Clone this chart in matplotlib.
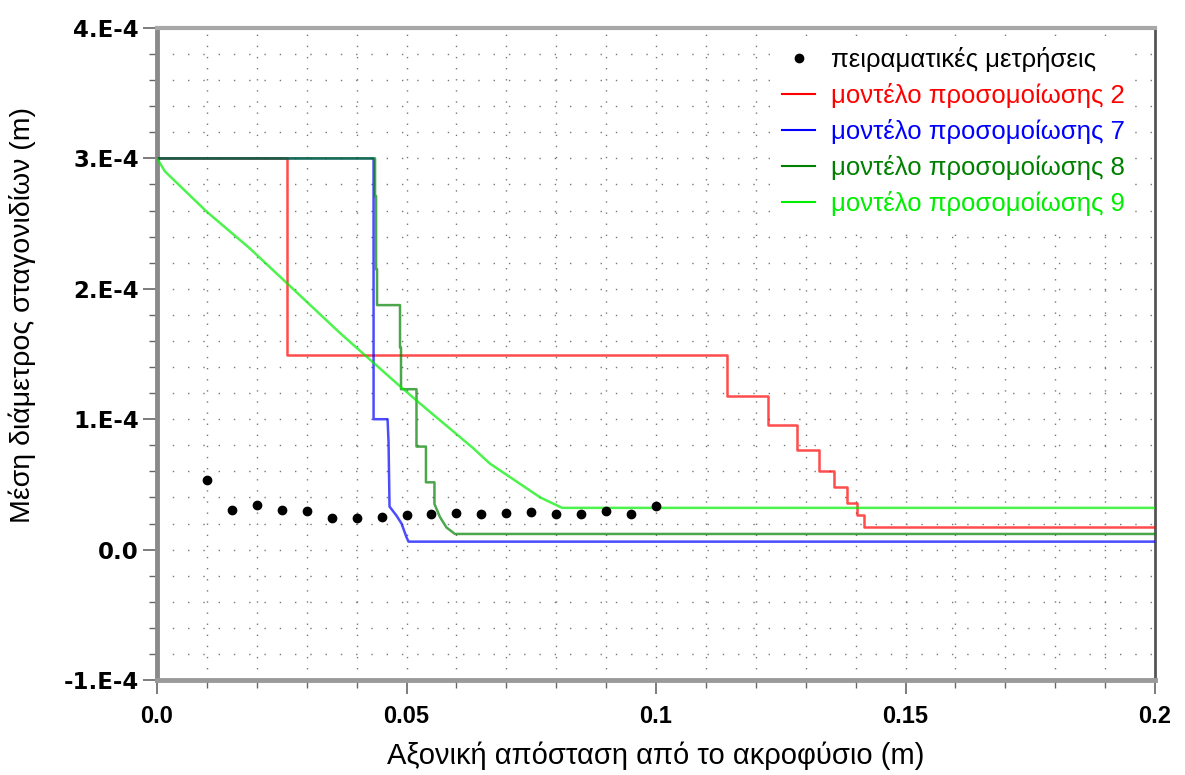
import matplotlib
matplotlib.use("Agg")
import matplotlib.pyplot as plt
from matplotlib.lines import Line2D
from matplotlib.ticker import MultipleLocator, FixedLocator
import numpy as np

# Experimental measurements: axial distance (m) and mean droplet diameter (1e-4 m)
exp_x = [0.010, 0.015, 0.020, 0.025, 0.030, 0.035, 0.040, 0.045, 0.050, 0.055,
         0.060, 0.065, 0.070, 0.075, 0.080, 0.085, 0.090, 0.095, 0.100]
exp_y = [0.536, 0.304, 0.342, 0.304, 0.294, 0.240, 0.245, 0.253, 0.266, 0.270,
         0.278, 0.270, 0.283, 0.285, 0.273, 0.273, 0.294, 0.273, 0.337]

# Simulation model 2 (step profile: break positions and levels, 1e-4 m)
m2_x = [0.0, 0.026, 0.1142, 0.1225, 0.1282, 0.1327, 0.1357, 0.1383, 0.1402, 0.1417, 0.2]
m2_y = [3.0, 1.49, 1.178, 0.952, 0.764, 0.600, 0.478, 0.360, 0.266, 0.171, 0.171]

# Simulation model 7
m7_x = [0.0, 0.0434, 0.0434, 0.0462, 0.0464, 0.0466, 0.0480, 0.0490, 0.0500, 0.0504, 0.2]
m7_y = [3.0, 3.0, 1.0, 1.0, 0.83, 0.33, 0.26, 0.20, 0.095, 0.061, 0.061]

# Simulation model 8
m8_x = [0.0, 0.0437, 0.0437, 0.0439, 0.0439, 0.0441, 0.0441, 0.0487, 0.0487, 0.0489,
        0.0489, 0.0520, 0.0520, 0.0539, 0.0539, 0.0556, 0.0556, 0.0567, 0.0580, 0.0597, 0.2]
m8_y = [3.0, 3.0, 2.71, 2.71, 2.15, 2.15, 1.875, 1.875, 1.55, 1.55,
        1.23, 1.23, 0.79, 0.79, 0.516, 0.516, 0.35, 0.25, 0.17, 0.12, 0.12]

# Simulation model 9
m9_x = [0.0, 0.0016, 0.010, 0.0186, 0.0367, 0.0473, 0.0521, 0.0633, 0.0667, 0.0768, 0.0812, 0.2]
m9_y = [3.0, 2.90, 2.59, 2.31, 1.66, 1.30, 1.14, 0.78, 0.66, 0.40, 0.32, 0.32]

labels = ["πειραματικές μετρήσεις",
          "μοντέλο προσομοίωσης 2",
          "μοντέλο προσομοίωσης 7",
          "μοντέλο προσομοίωσης 8",
          "μοντέλο προσομοίωσης 9"]
colors = ["#000000", "#ff0000", "#0000ff", "#008000", "#00ee00"]

x_ticks = [0.0, 0.05, 0.1, 0.15, 0.2]
x_ticklabels = ["0.0", "0.05", "0.1", "0.15", "0.2"]
y_ticks = [-1e-4, 0.0, 1e-4, 2e-4, 3e-4, 4e-4]
y_ticklabels = ["-1.E-4", "0.0", "1.E-4", "2.E-4", "3.E-4", "4.E-4"]

SCALE = 1e-4
SANS = ["Liberation Sans", "DejaVu Sans"]

fig = plt.figure(figsize=(11.85, 7.75), dpi=100)
ax = fig.add_axes([157 / 1185, 1 - 680 / 775, 998 / 1185, 652 / 775])

LW = 1.8
ax.plot(np.array(m2_x), np.array(m2_y) * SCALE, color=colors[1], lw=LW,
        drawstyle="steps-post", alpha=0.7, zorder=3)
ax.plot(np.array(m7_x), np.array(m7_y) * SCALE, color=colors[2], lw=LW, alpha=0.7, zorder=3)
ax.plot(np.array(m8_x), np.array(m8_y) * SCALE, color=colors[3], lw=LW, alpha=0.7, zorder=3)
ax.plot(np.array(m9_x), np.array(m9_y) * SCALE, color=colors[4], lw=LW, alpha=0.7, zorder=3)
ax.plot(exp_x, np.array(exp_y) * SCALE, linestyle="none", marker="o",
        markersize=6, color="black", zorder=4)

ax.set_xlim(0, 0.2)
ax.set_ylim(-1e-4, 4e-4)

ax.xaxis.set_major_locator(FixedLocator(x_ticks))
ax.xaxis.set_minor_locator(MultipleLocator(0.01))
ax.yaxis.set_major_locator(FixedLocator(y_ticks))
ax.yaxis.set_minor_locator(MultipleLocator(2e-5))
ax.set_xticklabels(x_ticklabels, fontdict={"family": SANS, "weight": "bold", "size": 17})
ax.set_yticklabels(y_ticklabels, fontdict={"family": ["DejaVu Sans"], "weight": "bold", "size": 16.5})

ax.tick_params(which="major", direction="out", length=10, width=1.2, color="#666666")
ax.tick_params(which="minor", direction="out", length=6, width=1.0, color="#666666")
ax.tick_params(axis="x", which="major", pad=8)
ax.tick_params(axis="y", which="major", pad=3)

# dotted grid: vertical lines every 0.01, horizontal every 2e-5
ax.xaxis.grid(True, which="both", color="#777777", linestyle=(0, (1, 7)), linewidth=1.0)
ax.yaxis.grid(True, which="both", color="#777777", linestyle=(0, (1, 10)), linewidth=1.0)
ax.set_axisbelow(True)

for side, lw, col in [("left", 3.5, "#8a8a8a"), ("bottom", 3.5, "#9a9a9a"),
                      ("top", 3.0, "#a8a8a8"), ("right", 2.0, "#555555")]:
    ax.spines[side].set_linewidth(lw)
    ax.spines[side].set_color(col)

ax.set_xlabel("Αξονική απόσταση από το ακροφύσιο (m)", family=SANS, size=21, labelpad=10)
ax.set_ylabel("Μέση διάμετρος σταγονιδίων (m)", family=SANS, size=20.5)
ax.yaxis.set_label_coords(-0.121, 0.56)

handles = [Line2D([], [], linestyle="none", marker="o", markersize=6, color="black")]
handles += [Line2D([], [], color=c, lw=1.5) for c in colors[1:]]
leg = ax.legend(handles, labels, loc="upper left", bbox_to_anchor=(0.616, 0.987),
                borderaxespad=0.0, frameon=True, facecolor="white", edgecolor="none",
                framealpha=1.0, fancybox=False, handlelength=1.3, handletextpad=0.6,
                labelspacing=0.43, borderpad=0.4, prop={"family": SANS, "size": 18.5})
for txt, c in zip(leg.get_texts(), colors):
    txt.set_color(c)
leg.set_zorder(5)

fig.savefig("out.png", dpi=100, facecolor="white")
